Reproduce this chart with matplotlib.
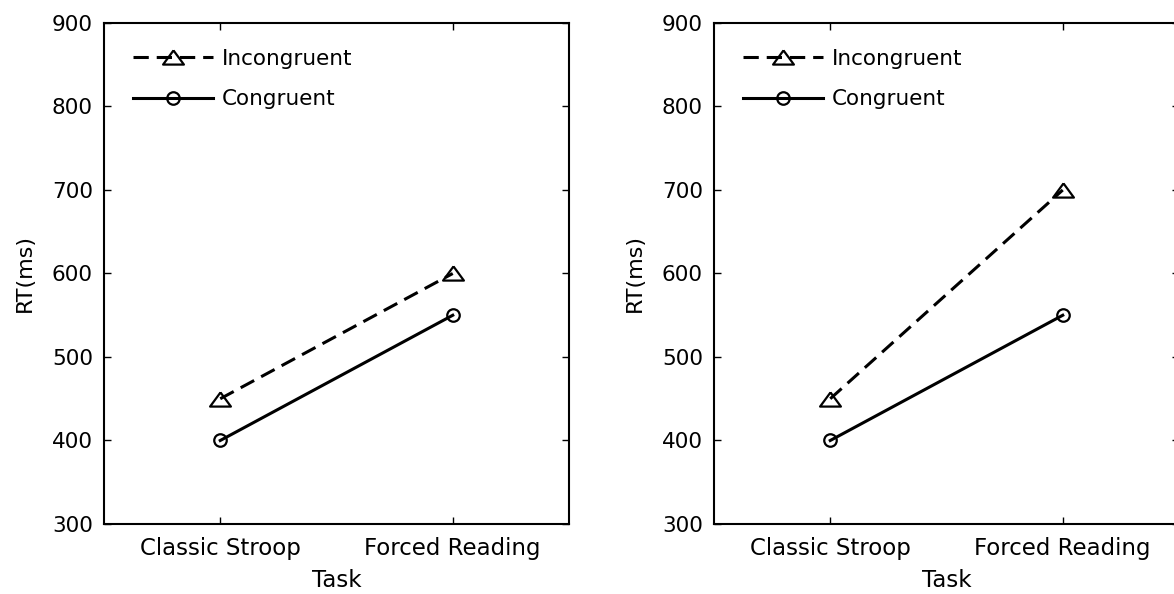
import matplotlib
matplotlib.use("Agg")
import matplotlib.pyplot as plt

tasks = ["Classic Stroop", "Forced Reading"]
left_incongruent = [450, 600]
left_congruent = [400, 550]
right_incongruent = [450, 700]
right_congruent = [400, 550]
yticks = [300, 400, 500, 600, 700, 800, 900]

plt.rcParams['font.family'] = ['DejaVu Sans']

W, H = 1174, 594
fig = plt.figure(figsize=(W / 100, H / 100), dpi=100)

def px_axes(x0, x1, y0, y1):
    return fig.add_axes([x0 / W, 1 - y1 / H, (x1 - x0) / W, (y1 - y0) / H])

ax1 = px_axes(104, 569, 23, 524)
ax2 = px_axes(714, 1179, 23, 524)

tri = [(0, 0.68), (-1, -0.68), (1, -0.68), (0, 0.68)]

for ax, inc, con in [(ax1, left_incongruent, left_congruent), (ax2, right_incongruent, right_congruent)]:
    xs = list(range(1, len(tasks) + 1))
    ax.plot(xs, inc, color='black', linestyle=(0, (5, 2.6)), linewidth=2.2, marker=tri,
            markersize=15, markerfacecolor='none', markeredgecolor='black', markeredgewidth=1.6,
            label='Incongruent')
    ax.plot(xs, con, color='black', linestyle='-', linewidth=2.2, marker='o',
            markersize=9, markerfacecolor='none', markeredgecolor='black', markeredgewidth=1.6,
            label='Congruent')
    ax.set_xlim(0.5, 2.5)
    ax.set_ylim(300, 900)
    ax.set_xticks(xs)
    ax.set_xticklabels(tasks, fontsize=16.5)
    ax.set_yticks(yticks)
    ax.tick_params(axis='y', labelsize=15.5, pad=8)
    ax.tick_params(axis='x', pad=9)
    ax.tick_params(direction='in', top=True, right=True, length=5, width=1.0)
    for s in ax.spines.values():
        s.set_linewidth(1.5)
    ax.set_xlabel('Task', fontsize=16.5, labelpad=7)
    ax.set_ylabel('RT(ms)', fontsize=16, labelpad=12)
    ax.legend(loc='upper left', frameon=False, fontsize=15.5, handlelength=3.7,
              handletextpad=0.42, borderaxespad=0, borderpad=0, labelspacing=0.97,
              bbox_to_anchor=(0.0625, 0.949))

fig.savefig('out.png', dpi=100)
